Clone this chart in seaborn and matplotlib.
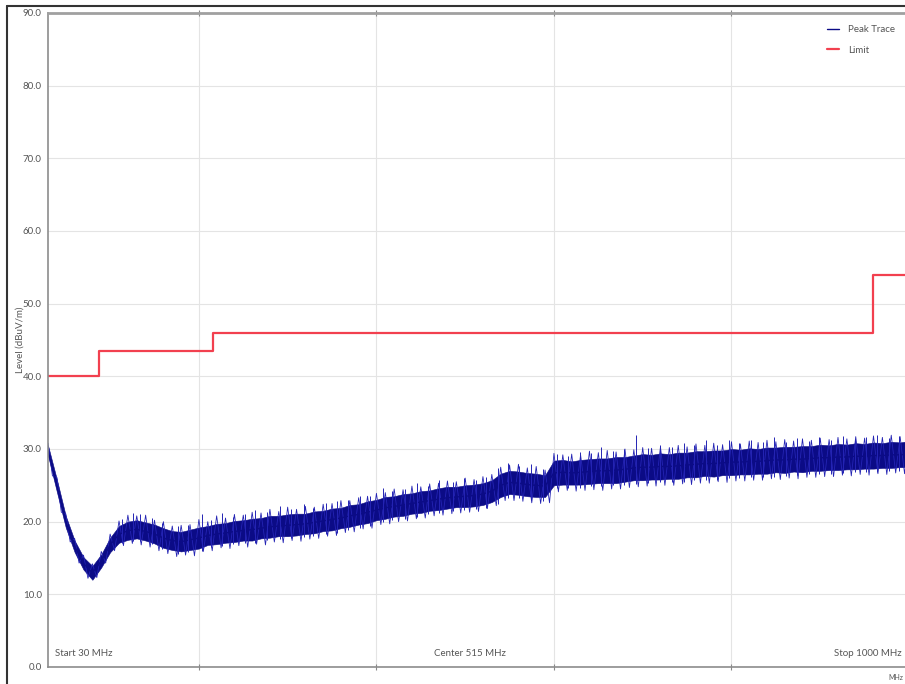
import numpy as np
import pandas as pd
import matplotlib
matplotlib.use("Agg")
import matplotlib.pyplot as plt
from matplotlib.lines import Line2D
from matplotlib.ticker import MultipleLocator, FormatStrFormatter
import seaborn as sns

# sweep: 30 MHz .. 1000 MHz, band edges read every 10 MHz
freq_mhz = list(range(30, 1001, 10))

band_hi = [30.5, 25.8, 20.8, 17.4, 15.1, 13.9, 15.5, 17.8, 19.4, 20.0,
           20.2, 19.9, 19.6, 19.1, 18.7, 18.6, 18.9, 19.2, 19.4, 19.7,
           19.8, 20.1, 20.2, 20.4, 20.5, 20.8, 20.8, 21.0, 21.1, 21.1,
           21.4, 21.5, 21.8, 21.9, 22.3, 22.4, 22.8, 23.0, 23.4, 23.5,
           23.8, 23.9, 24.2, 24.3, 24.6, 24.8, 24.8, 25.0, 25.1, 25.3,
           25.7, 26.6, 27.0, 26.9, 26.7, 26.6, 26.4, 28.4, 28.5, 28.3,
           28.5, 28.6, 28.7, 28.7, 28.9, 28.9, 29.1, 29.3, 29.2, 29.4,
           29.3, 29.5, 29.5, 29.7, 29.7, 29.8, 29.8, 30.0, 29.9, 30.1,
           30.0, 30.2, 30.2, 30.3, 30.3, 30.4, 30.4, 30.6, 30.5, 30.7,
           30.6, 30.8, 30.7, 30.9, 30.8, 31.0, 30.9, 31.1]

band_lo = [29.1, 24.1, 19.2, 15.8, 13.4, 12.0, 13.7, 15.8, 17.1, 17.5,
           17.7, 17.4, 17.0, 16.4, 16.1, 15.9, 16.1, 16.3, 16.8, 16.9,
           17.1, 17.2, 17.4, 17.4, 17.7, 17.8, 18.0, 18.0, 18.1, 18.3,
           18.4, 18.7, 18.8, 19.1, 19.3, 19.6, 19.8, 20.2, 20.4, 20.7,
           20.8, 21.1, 21.2, 21.5, 21.6, 21.8, 22.0, 22.0, 22.1, 22.3,
           22.7, 23.4, 23.8, 23.7, 23.5, 23.4, 23.4, 25.0, 25.1, 25.1,
           25.1, 25.2, 25.3, 25.3, 25.3, 25.5, 25.7, 25.7, 25.8, 25.8,
           25.9, 25.9, 26.1, 26.1, 26.3, 26.2, 26.4, 26.4, 26.5, 26.5,
           26.6, 26.6, 26.8, 26.7, 26.9, 26.8, 27.0, 27.0, 27.1, 27.1,
           27.2, 27.2, 27.3, 27.3, 27.4, 27.4, 27.5, 27.5]

# raw peak readings every 5 MHz (30, 35, 40, ...), jumping across the band
zig_freq = list(range(30, 1001, 5))
zig_level = [30.8, 26.3, 26.1, 21.3, 21.1, 17.2, 17.7, 14.3, 15.4, 12.2,
             14.2, 12.3, 15.9, 14.3, 18.3, 16.0, 20.1, 16.7, 20.9, 17.0,
             20.8, 16.8, 20.9, 16.5, 20.2, 16.0, 20.0, 15.6, 19.4, 15.2,
             19.5, 15.4, 19.6, 15.3, 20.3, 15.9, 20.0, 16.0, 20.8, 16.4,
             20.5, 16.3, 21.0, 16.7, 20.9, 16.5, 21.3, 16.9, 21.2, 16.8,
             21.7, 17.2, 21.4, 17.1, 22.0, 17.4, 21.7, 17.3, 22.1, 17.6,
             22.0, 17.7, 22.4, 18.0, 22.5, 18.1, 22.9, 18.5, 22.9, 18.6,
             23.3, 19.0, 23.5, 19.1, 23.9, 19.6, 24.0, 19.7, 24.5, 20.0,
             24.4, 20.1, 24.9, 20.4, 24.8, 20.5, 25.2, 20.8, 25.3, 20.9,
             25.6, 21.1, 25.5, 21.2, 26.0, 21.3, 25.8, 21.4, 26.2, 21.8,
             26.5, 22.2, 27.5, 22.9, 27.8, 22.9, 27.9, 22.8, 27.4, 22.6,
             27.6, 22.5, 27.1, 22.6, 29.4, 24.1, 29.2, 24.3, 29.3, 24.2,
             29.2, 24.3, 29.7, 24.4, 29.5, 24.3, 29.8, 24.5, 29.6, 24.5,
             30.0, 24.7, 29.9, 24.8, 30.2, 24.9, 30.1, 24.9, 30.3, 25.0,
             30.2, 25.0, 30.5, 25.2, 30.3, 25.1, 30.7, 25.3, 30.5, 25.3,
             30.8, 25.5, 30.6, 25.4, 31.0, 25.6, 30.7, 25.6, 31.1, 25.7,
             30.9, 25.7, 31.2, 25.9, 31.0, 25.8, 31.3, 26.0, 31.1, 25.9,
             31.4, 26.1, 31.2, 26.1, 31.5, 26.2, 31.3, 26.2, 31.6, 26.4,
             31.4, 26.3, 31.7, 26.5, 31.5, 26.4, 31.8, 26.6, 31.6, 26.5,
             31.9, 26.7, 31.7, 26.6, 31.9]

# single noise spikes sticking out of the band
spike_freq = [113, 126, 134, 147, 158, 176, 188, 203, 214, 226, 238, 252,
              263, 277, 291, 304, 318, 329, 343, 356, 368, 381, 393, 407,
              418, 432, 446, 458, 471, 486, 499, 512, 524, 537, 548, 561,
              574, 588, 604, 616, 629, 642, 653, 667, 679, 692, 706, 719,
              733, 746, 758, 771, 784, 797, 809, 822, 836, 848, 861, 874,
              887, 899, 912, 926, 939, 951, 964, 977, 989]
spike_bottom = [17.0, 17.3, 17.4, 16.9, 16.2, 15.6, 15.8, 16.0, 16.5, 16.7,
                16.9, 17.0, 17.1, 17.5, 17.6, 17.7, 17.9, 18.0, 18.3, 18.5,
                18.8, 19.1, 19.4, 19.9, 20.2, 20.4, 20.7, 21.0, 21.2, 21.4,
                21.6, 21.7, 21.9, 22.5, 23.2, 23.2, 23.0, 22.8, 24.6, 24.7,
                24.6, 24.9, 24.9, 25.0, 25.1, 25.2, 25.3, 25.4, 25.5, 25.5,
                25.7, 25.8, 25.8, 26.0, 26.0, 26.1, 26.2, 26.2, 26.3, 26.4,
                26.5, 26.6, 26.6, 26.7, 26.8, 26.8, 26.9, 27.0, 27.0]
spike_top = [20.4, 21.2, 21.0, 20.5, 19.8, 19.4, 19.6, 21.0, 20.2, 21.2,
             20.6, 21.0, 21.6, 21.3, 22.1, 21.8, 22.4, 21.9, 22.6, 22.9,
             23.0, 23.6, 23.5, 24.6, 24.2, 24.5, 25.3, 24.9, 25.7, 25.4,
             26.0, 25.8, 26.2, 27.4, 28.1, 27.6, 27.9, 27.2, 29.3, 29.1,
             29.6, 29.4, 30.3, 29.7, 30.0, 31.9, 30.2, 30.6, 30.3, 30.8,
             30.5, 31.2, 30.6, 31.3, 30.8, 31.2, 30.9, 31.6, 31.0, 31.5,
             31.1, 31.7, 31.3, 31.8, 31.4, 31.6, 31.9, 31.5, 31.8]

# limit line (steps)
limit_freq = [30, 88, 216, 960, 1000]
limit_level = [40.0, 43.5, 46.0, 54.0, 54.0]

navy = "#0b0b86"
fringe = "#2424b4"
limit_red = "#f2404f"
gray_txt = "#555555"

# long form table: two readings per frequency -> seaborn draws min..max band
df = pd.DataFrame({
    "freq": freq_mhz + freq_mhz,
    "level": band_hi + band_lo,
})

sns.set_style("white")
plt.rcParams["font.family"] = ["Lato", "DejaVu Sans"]

W, H = 905, 684
fig = plt.figure(figsize=(W / 100, H / 100), dpi=100)
# plot area is cut off on the right, like the screenshot
ax = fig.add_axes([48 / W, (H - 667) / H, (909 - 48) / W, (667 - 13) / H])

sns.lineplot(x=zig_freq, y=zig_level, color=fringe, lw=0.6, ax=ax)
sns.lineplot(data=df, x="freq", y="level", estimator="mean",
             errorbar=("pi", 100), color=navy, lw=1.0,
             err_kws={"alpha": 1.0, "lw": 0.4},
             label="Peak Trace", ax=ax)
ax.vlines(spike_freq, spike_bottom, spike_top, color=fringe, lw=0.7)
sns.lineplot(x=limit_freq, y=limit_level, drawstyle="steps-post",
             color=limit_red, lw=1.6, label="Limit", ax=ax)

ax.set_xlim(30, 1000)
ax.set_ylim(0, 90)
ax.set_xticks([200, 400, 600, 800])
ax.set_xticklabels([])
ax.yaxis.set_major_locator(MultipleLocator(10))
ax.yaxis.set_minor_locator(MultipleLocator(2))
ax.yaxis.set_major_formatter(FormatStrFormatter("%.1f"))
ax.tick_params(axis="y", which="major", labelsize=7, labelcolor=gray_txt,
               colors="#888888", direction="inout", length=5, width=0.8, pad=2)
ax.tick_params(axis="y", which="minor", colors="#aaaaaa", direction="out",
               length=2, width=0.6)
ax.tick_params(axis="x", which="major", colors="#888888", direction="inout",
               length=4, width=0.8, top=True, bottom=True)
ax.grid(True, which="major", color="#e4e4e4", lw=0.8)
ax.set_axisbelow(True)

for side, sp in ax.spines.items():
    sp.set_color("#8c8c8c")
    sp.set_linewidth(1.2)
ax.spines["top"].set_linewidth(2.0)
ax.spines["top"].set_color("#a0a0a0")

ax.set_xlabel("")
ax.set_ylabel("Level (dBuV/m)", fontsize=7, color=gray_txt)
ax.yaxis.set_label_coords((25 - 48) / (909 - 48), 0.5)

ax.text(0.008, 0.013, "Start 30 MHz", transform=ax.transAxes,
        fontsize=7, color=gray_txt, ha="left", va="bottom")
ax.text(0.49, 0.013, "Center 515 MHz", transform=ax.transAxes,
        fontsize=7, color=gray_txt, ha="center", va="bottom")
ax.text(0.991, 0.013, "Stop 1000 MHz", transform=ax.transAxes,
        fontsize=7, color=gray_txt, ha="right", va="bottom")
fig.text(903 / W, 1 - 678 / H, "MHz", fontsize=5, color=gray_txt,
         ha="right", va="center")

leg = ax.legend(loc="upper right", bbox_to_anchor=(0.994, 0.995),
                frameon=False, fontsize=7, handlelength=1.3,
                handletextpad=0.9, labelspacing=1.2)
for t in leg.get_texts():
    t.set_color(gray_txt)

# outer frame of the screenshot (right and bottom are cropped away)
fig.add_artist(Line2D([7 / W, 7 / W], [0, 1 - 6 / H], color="#333333", lw=1.5))
fig.add_artist(Line2D([7 / W, 1], [1 - 6 / H, 1 - 6 / H], color="#333333", lw=1.5))

fig.savefig("out.png", dpi=100)
